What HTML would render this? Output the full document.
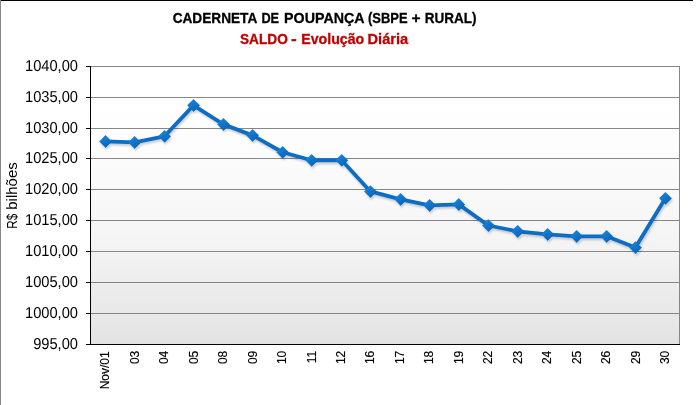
<!DOCTYPE html>
<html lang="pt-BR">
<head>
<meta charset="utf-8">
<title>Caderneta de Poupança - Saldo - Evolução Diária</title>
<style>
html,body{margin:0;padding:0;background:#fff;}
body{width:700px;height:405px;overflow:hidden;}
svg{display:block;}
text{font-family:"Liberation Sans",Arial,sans-serif;fill:#000;}
.yl{font-size:15.8px;text-anchor:end;}
.xl{font-size:12px;text-anchor:end;stroke:#000;stroke-width:0.15px;}
.t1{font-size:15px;font-weight:bold;stroke:#000;stroke-width:0.3px;}
.t2{font-size:15px;font-weight:bold;fill:#c00000;stroke:#c00000;stroke-width:0.3px;}
.at{font-size:15.5px;}
</style>
</head>
<body>
<svg width="700" height="405" viewBox="0 0 700 405">
<defs>
<linearGradient id="pg" x1="0" y1="0" x2="0" y2="1"><stop offset="0" stop-color="#ffffff"/><stop offset="0.1" stop-color="#ffffff"/><stop offset="0.2" stop-color="#fefefe"/><stop offset="0.3" stop-color="#fcfcfc"/><stop offset="0.4" stop-color="#fafafa"/><stop offset="0.5" stop-color="#f8f8f8"/><stop offset="0.6" stop-color="#f5f5f5"/><stop offset="0.7" stop-color="#f1f1f1"/><stop offset="0.8" stop-color="#ececec"/><stop offset="0.9" stop-color="#e8e8e8"/><stop offset="1" stop-color="#e2e2e2"/></linearGradient>
<linearGradient id="mg" x1="0.2" y1="0" x2="0.8" y2="1"><stop offset="0" stop-color="#1f84dc"/><stop offset="0.45" stop-color="#1175cd"/><stop offset="1" stop-color="#0862b2"/></linearGradient>
<filter id="sh" x="-5%" y="-20%" width="110%" height="140%"><feGaussianBlur in="SourceAlpha" stdDeviation="1.3"/><feOffset dx="0.8" dy="1.5"/><feComponentTransfer><feFuncA type="linear" slope="0.2"/></feComponentTransfer><feMerge><feMergeNode/><feMergeNode in="SourceGraphic"/></feMerge></filter>
</defs>
<rect x="0" y="0" width="700" height="405" fill="#ffffff"/>
<rect x="1" y="0" width="692" height="1" fill="#000000"/>
<rect x="0" y="0" width="1" height="405" fill="#868686"/>
<rect x="90.5" y="66.5" width="589" height="278" fill="url(#pg)"/>
<g stroke="#868686" stroke-width="1" fill="none">
<line x1="90.5" y1="66.5" x2="679.5" y2="66.5"/>
<line x1="90.5" y1="97.5" x2="679.5" y2="97.5"/>
<line x1="90.5" y1="128.5" x2="679.5" y2="128.5"/>
<line x1="90.5" y1="158.5" x2="679.5" y2="158.5"/>
<line x1="90.5" y1="189.5" x2="679.5" y2="189.5"/>
<line x1="90.5" y1="220.5" x2="679.5" y2="220.5"/>
<line x1="90.5" y1="251.5" x2="679.5" y2="251.5"/>
<line x1="90.5" y1="282.5" x2="679.5" y2="282.5"/>
<line x1="90.5" y1="313.5" x2="679.5" y2="313.5"/>
<line x1="679.5" y1="66" x2="679.5" y2="344.5"/>
</g>
<g stroke="#000000" stroke-width="1" fill="none">
<line x1="90.5" y1="66" x2="90.5" y2="345"/>
<line x1="86" y1="344.5" x2="680" y2="344.5"/>
<line x1="86" y1="66.5" x2="90.5" y2="66.5"/>
<line x1="86" y1="97.5" x2="90.5" y2="97.5"/>
<line x1="86" y1="128.5" x2="90.5" y2="128.5"/>
<line x1="86" y1="158.5" x2="90.5" y2="158.5"/>
<line x1="86" y1="189.5" x2="90.5" y2="189.5"/>
<line x1="86" y1="220.5" x2="90.5" y2="220.5"/>
<line x1="86" y1="251.5" x2="90.5" y2="251.5"/>
<line x1="86" y1="282.5" x2="90.5" y2="282.5"/>
<line x1="86" y1="313.5" x2="90.5" y2="313.5"/>
<line x1="86" y1="344.5" x2="90.5" y2="344.5"/>
</g>
<g filter="url(#sh)">
<polyline points="105.5,141.4 134.6,142.4 164.5,136.3 193.5,105.35 223.4,124.35 252.5,135.35 282.6,152.25 311.6,160.25 341.7,160.25 370.4,191.45 400.6,199.35 429.6,205.35 458.7,204.4 488.4,225.5 517.6,231.35 547.6,234.35 576.6,236.35 606.6,236.35 635.4,247.5 665.4,198.25" fill="none" stroke="#0a6cc4" stroke-width="3.8" stroke-linejoin="round" stroke-linecap="round"/>
<g transform="translate(105.5 141.4)"><path d="M0,-6.3 L6.3,0 L0,6.3 L-6.3,0 Z" fill="url(#mg)"/><path d="M6.1,0 L0,6.1" fill="none" stroke="#085aa6" stroke-opacity="0.55" stroke-width="0.9"/></g>
<g transform="translate(134.6 142.4)"><path d="M0,-6.3 L6.3,0 L0,6.3 L-6.3,0 Z" fill="url(#mg)"/><path d="M6.1,0 L0,6.1" fill="none" stroke="#085aa6" stroke-opacity="0.55" stroke-width="0.9"/></g>
<g transform="translate(164.5 136.3)"><path d="M0,-6.3 L6.3,0 L0,6.3 L-6.3,0 Z" fill="url(#mg)"/><path d="M6.1,0 L0,6.1" fill="none" stroke="#085aa6" stroke-opacity="0.55" stroke-width="0.9"/></g>
<g transform="translate(193.5 105.35)"><path d="M0,-6.3 L6.3,0 L0,6.3 L-6.3,0 Z" fill="url(#mg)"/><path d="M6.1,0 L0,6.1" fill="none" stroke="#085aa6" stroke-opacity="0.55" stroke-width="0.9"/></g>
<g transform="translate(223.4 124.35)"><path d="M0,-6.3 L6.3,0 L0,6.3 L-6.3,0 Z" fill="url(#mg)"/><path d="M6.1,0 L0,6.1" fill="none" stroke="#085aa6" stroke-opacity="0.55" stroke-width="0.9"/></g>
<g transform="translate(252.5 135.35)"><path d="M0,-6.3 L6.3,0 L0,6.3 L-6.3,0 Z" fill="url(#mg)"/><path d="M6.1,0 L0,6.1" fill="none" stroke="#085aa6" stroke-opacity="0.55" stroke-width="0.9"/></g>
<g transform="translate(282.6 152.25)"><path d="M0,-6.3 L6.3,0 L0,6.3 L-6.3,0 Z" fill="url(#mg)"/><path d="M6.1,0 L0,6.1" fill="none" stroke="#085aa6" stroke-opacity="0.55" stroke-width="0.9"/></g>
<g transform="translate(311.6 160.25)"><path d="M0,-6.3 L6.3,0 L0,6.3 L-6.3,0 Z" fill="url(#mg)"/><path d="M6.1,0 L0,6.1" fill="none" stroke="#085aa6" stroke-opacity="0.55" stroke-width="0.9"/></g>
<g transform="translate(341.7 160.25)"><path d="M0,-6.3 L6.3,0 L0,6.3 L-6.3,0 Z" fill="url(#mg)"/><path d="M6.1,0 L0,6.1" fill="none" stroke="#085aa6" stroke-opacity="0.55" stroke-width="0.9"/></g>
<g transform="translate(370.4 191.45)"><path d="M0,-6.3 L6.3,0 L0,6.3 L-6.3,0 Z" fill="url(#mg)"/><path d="M6.1,0 L0,6.1" fill="none" stroke="#085aa6" stroke-opacity="0.55" stroke-width="0.9"/></g>
<g transform="translate(400.6 199.35)"><path d="M0,-6.3 L6.3,0 L0,6.3 L-6.3,0 Z" fill="url(#mg)"/><path d="M6.1,0 L0,6.1" fill="none" stroke="#085aa6" stroke-opacity="0.55" stroke-width="0.9"/></g>
<g transform="translate(429.6 205.35)"><path d="M0,-6.3 L6.3,0 L0,6.3 L-6.3,0 Z" fill="url(#mg)"/><path d="M6.1,0 L0,6.1" fill="none" stroke="#085aa6" stroke-opacity="0.55" stroke-width="0.9"/></g>
<g transform="translate(458.7 204.4)"><path d="M0,-6.3 L6.3,0 L0,6.3 L-6.3,0 Z" fill="url(#mg)"/><path d="M6.1,0 L0,6.1" fill="none" stroke="#085aa6" stroke-opacity="0.55" stroke-width="0.9"/></g>
<g transform="translate(488.4 225.5)"><path d="M0,-6.3 L6.3,0 L0,6.3 L-6.3,0 Z" fill="url(#mg)"/><path d="M6.1,0 L0,6.1" fill="none" stroke="#085aa6" stroke-opacity="0.55" stroke-width="0.9"/></g>
<g transform="translate(517.6 231.35)"><path d="M0,-6.3 L6.3,0 L0,6.3 L-6.3,0 Z" fill="url(#mg)"/><path d="M6.1,0 L0,6.1" fill="none" stroke="#085aa6" stroke-opacity="0.55" stroke-width="0.9"/></g>
<g transform="translate(547.6 234.35)"><path d="M0,-6.3 L6.3,0 L0,6.3 L-6.3,0 Z" fill="url(#mg)"/><path d="M6.1,0 L0,6.1" fill="none" stroke="#085aa6" stroke-opacity="0.55" stroke-width="0.9"/></g>
<g transform="translate(576.6 236.35)"><path d="M0,-6.3 L6.3,0 L0,6.3 L-6.3,0 Z" fill="url(#mg)"/><path d="M6.1,0 L0,6.1" fill="none" stroke="#085aa6" stroke-opacity="0.55" stroke-width="0.9"/></g>
<g transform="translate(606.6 236.35)"><path d="M0,-6.3 L6.3,0 L0,6.3 L-6.3,0 Z" fill="url(#mg)"/><path d="M6.1,0 L0,6.1" fill="none" stroke="#085aa6" stroke-opacity="0.55" stroke-width="0.9"/></g>
<g transform="translate(635.4 247.5)"><path d="M0,-6.3 L6.3,0 L0,6.3 L-6.3,0 Z" fill="url(#mg)"/><path d="M6.1,0 L0,6.1" fill="none" stroke="#085aa6" stroke-opacity="0.55" stroke-width="0.9"/></g>
<g transform="translate(665.4 198.25)"><path d="M0,-6.3 L6.3,0 L0,6.3 L-6.3,0 Z" fill="url(#mg)"/><path d="M6.1,0 L0,6.1" fill="none" stroke="#085aa6" stroke-opacity="0.55" stroke-width="0.9"/></g>
</g>
<text class="t1" y="22.7" transform="rotate(0.02 325 22.7)"><tspan x="172.65" textLength="84.13" lengthAdjust="spacingAndGlyphs">CADERNETA</tspan> <tspan x="261.41" textLength="17.68" lengthAdjust="spacingAndGlyphs">DE</tspan> <tspan x="284.09" textLength="79.93" lengthAdjust="spacingAndGlyphs">POUPANÇA</tspan> <tspan x="368.07" textLength="39.53" lengthAdjust="spacingAndGlyphs">(SBPE</tspan> <tspan x="411.53" textLength="9.1" lengthAdjust="spacingAndGlyphs">+</tspan> <tspan x="424.83" textLength="51.72" lengthAdjust="spacingAndGlyphs">RURAL)</tspan></text>
<text class="t2" y="43.8" transform="rotate(0.02 325 43.8)"><tspan x="239.97" textLength="47.78" lengthAdjust="spacingAndGlyphs">SALDO</tspan> <tspan x="291.03" textLength="5.75" lengthAdjust="spacingAndGlyphs">-</tspan> <tspan x="301.24" textLength="62.97" lengthAdjust="spacingAndGlyphs">Evolução</tspan> <tspan x="367.57" textLength="40.64" lengthAdjust="spacingAndGlyphs">Diária</tspan></text>
<text class="at" transform="translate(17.2 227.7) rotate(-90)"><tspan x="-0.95" textLength="14.99" lengthAdjust="spacingAndGlyphs">R$</tspan> <tspan x="17.98" textLength="47.42" lengthAdjust="spacingAndGlyphs">bilhões</tspan></text>
<text class="yl" x="78" y="71" textLength="53.02" lengthAdjust="spacingAndGlyphs" transform="rotate(0.03 78 71)">1040,00</text>
<text class="yl" x="78" y="102" textLength="53.02" lengthAdjust="spacingAndGlyphs" transform="rotate(0.03 78 102)">1035,00</text>
<text class="yl" x="78" y="133" textLength="53.02" lengthAdjust="spacingAndGlyphs" transform="rotate(0.03 78 133)">1030,00</text>
<text class="yl" x="78" y="163" textLength="53.02" lengthAdjust="spacingAndGlyphs" transform="rotate(0.03 78 163)">1025,00</text>
<text class="yl" x="78" y="194" textLength="53.02" lengthAdjust="spacingAndGlyphs" transform="rotate(0.03 78 194)">1020,00</text>
<text class="yl" x="78" y="225" textLength="53.02" lengthAdjust="spacingAndGlyphs" transform="rotate(0.03 78 225)">1015,00</text>
<text class="yl" x="78" y="256" textLength="53.02" lengthAdjust="spacingAndGlyphs" transform="rotate(0.03 78 256)">1010,00</text>
<text class="yl" x="78" y="287" textLength="53.02" lengthAdjust="spacingAndGlyphs" transform="rotate(0.03 78 287)">1005,00</text>
<text class="yl" x="78" y="318" textLength="53.02" lengthAdjust="spacingAndGlyphs" transform="rotate(0.03 78 318)">1000,00</text>
<text class="yl" x="78" y="349" textLength="44.86" lengthAdjust="spacingAndGlyphs" transform="rotate(0.03 78 349)">995,00</text>
<text class="xl" transform="translate(108.85 351.3) rotate(-90)">Nov/01</text>
<text class="xl" transform="translate(138.85 350.7) rotate(-90)">03</text>
<text class="xl" transform="translate(168.3 350.7) rotate(-90)">04</text>
<text class="xl" transform="translate(197.75 350.7) rotate(-90)">05</text>
<text class="xl" transform="translate(227.2 350.7) rotate(-90)">08</text>
<text class="xl" transform="translate(256.65 350.7) rotate(-90)">09</text>
<text class="xl" transform="translate(286.1 350.7) rotate(-90)">10</text>
<text class="xl" transform="translate(315.55 350.7) rotate(-90)">11</text>
<text class="xl" transform="translate(345 350.7) rotate(-90)">12</text>
<text class="xl" transform="translate(374.45 350.7) rotate(-90)">16</text>
<text class="xl" transform="translate(403.9 350.7) rotate(-90)">17</text>
<text class="xl" transform="translate(433.35 350.7) rotate(-90)">18</text>
<text class="xl" transform="translate(462.8 350.7) rotate(-90)">19</text>
<text class="xl" transform="translate(492.25 350.7) rotate(-90)">22</text>
<text class="xl" transform="translate(521.7 350.7) rotate(-90)">23</text>
<text class="xl" transform="translate(551.15 350.7) rotate(-90)">24</text>
<text class="xl" transform="translate(580.6 350.7) rotate(-90)">25</text>
<text class="xl" transform="translate(610.05 350.7) rotate(-90)">26</text>
<text class="xl" transform="translate(639.5 350.7) rotate(-90)">29</text>
<text class="xl" transform="translate(668.95 350.7) rotate(-90)">30</text>
</svg>
</body>
</html>
